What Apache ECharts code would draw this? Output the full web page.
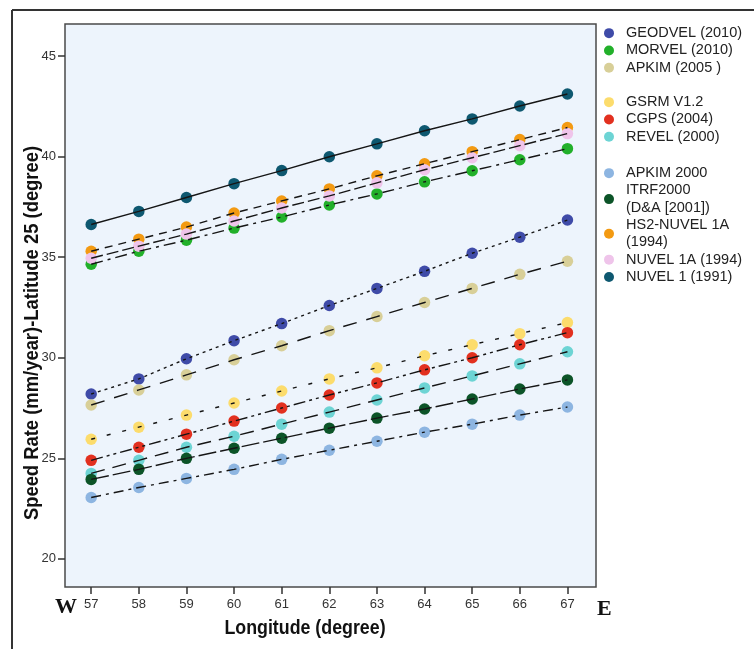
<!DOCTYPE html>
<html>
<head>
<meta charset="utf-8">
<script src="https://cdn.jsdelivr.net/npm/echarts@6/dist/echarts.min.js"></script>
<style>
  html, body { margin: 0; padding: 0; background: #fff; }
  #chart { width: 754px; height: 649px; }
</style>
</head>
<body>
<div id="chart"></div>
<script>
var longitudes = [57, 58, 59, 60, 61, 62, 63, 64, 65, 66, 67];
var yTicks = [20, 25, 30, 35, 40, 45];

var geodvel  = [28.2, 28.95, 29.95, 30.85, 31.7, 32.6, 33.45, 34.3, 35.2, 36.0, 36.85];
var morvel   = [34.65, 35.3, 35.85, 36.45, 37.0, 37.6, 38.15, 38.75, 39.3, 39.85, 40.4];
var apkim05  = [27.65, 28.4, 29.15, 29.9, 30.6, 31.35, 32.05, 32.75, 33.45, 34.15, 34.8];
var gsrm     = [25.95, 26.55, 27.15, 27.75, 28.35, 28.95, 29.5, 30.1, 30.65, 31.2, 31.75];
var cgps     = [24.9, 25.55, 26.2, 26.85, 27.5, 28.15, 28.75, 29.4, 30.0, 30.65, 31.25];
var revel    = [24.25, 24.9, 25.55, 26.1, 26.7, 27.3, 27.9, 28.5, 29.1, 29.7, 30.3];
var apkim00  = [23.05, 23.55, 24.0, 24.45, 24.95, 25.4, 25.85, 26.3, 26.7, 27.15, 27.55];
var itrf00   = [23.95, 24.45, 25.0, 25.5, 26.0, 26.5, 27.0, 27.45, 27.95, 28.45, 28.9];
var hs2nuvel = [35.3, 35.9, 36.5, 37.2, 37.8, 38.4, 39.05, 39.65, 40.25, 40.85, 41.45];
var nuvel1a  = [34.95, 35.55, 36.15, 36.8, 37.45, 38.05, 38.7, 39.35, 39.95, 40.55, 41.15];
var nuvel1   = [36.63, 37.28, 37.97, 38.66, 39.31, 40.0, 40.64, 41.29, 41.88, 42.52, 43.12];

var models = [
  { name: 'GEODVEL (2010)', values: geodvel, color: '#3f4ba8', dash: [3, 4] },
  { name: 'MORVEL (2010)', values: morvel, color: '#22b02a', dash: [12, 5, 3, 5] },
  { name: 'APKIM (2005 )', values: apkim05, color: '#d8cf98', dash: [14, 10] },
  { name: 'GSRM V1.2', values: gsrm, color: '#fcdc6c', dash: [4, 12] },
  { name: 'CGPS (2004)', values: cgps, color: '#e2301f', dash: [12, 4, 3, 4, 3, 4] },
  { name: 'REVEL (2000)', values: revel, color: '#6dd4d4', dash: [14, 8] },
  { name: 'APKIM 2000', values: apkim00, color: '#8db5e1', dash: [10, 5, 3, 5] },
  { name: 'ITRF2000\n(D&A [2001])', values: itrf00, color: '#0c5428', dash: [18, 4] },
  { name: 'HS2-NUVEL 1A\n(1994)', values: hs2nuvel, color: '#f39a12', dash: [8, 6] },
  { name: 'NUVEL 1A (1994)', values: nuvel1a, color: '#efc4ea', dash: [12, 4] },
  { name: 'NUVEL 1 (1991)', values: nuvel1, color: '#0e5870', dash: 'solid' }
];

var series = [];
models.forEach(function (m) {
  var pts = longitudes.map(function (x, i) { return [x, m.values[i]]; });
  series.push({
    name: m.name,
    type: 'scatter',
    data: pts,
    symbolSize: 11.5,
    itemStyle: { color: m.color, opacity: 1 },
    z: 2
  });
  series.push({
    name: m.name + ' line',
    type: 'line',
    data: pts,
    showSymbol: false,
    lineStyle: { color: '#151515', width: 1.4, type: m.dash },
    z: 3
  });
});

function legendFor(names, top) {
  return {
    data: names,
    orient: 'vertical',
    left: 604,
    top: top,
    padding: 0,
    itemGap: 0,
    icon: 'circle',
    itemWidth: 24,
    itemHeight: 10,
    selectedMode: false,
    textStyle: { fontFamily: 'Liberation Sans, Arial, sans-serif', fontSize: 14.5, color: '#222', lineHeight: 17.3 }
  };
}

var titleFont = 'bold 20px "Liberation Sans", Arial, sans-serif';

var chart = echarts.init(document.getElementById('chart'));
chart.setOption({
  animation: false,
  backgroundColor: '#fff',
  grid: {
    left: 65, top: 24, right: 158, bottom: 62,
    show: true,
    backgroundColor: '#edf4fc',
    borderColor: '#4a4a4a',
    borderWidth: 1.5
  },
  legend: [
    legendFor([models[0].name, models[1].name, models[2].name], 24.5),
    legendFor([models[3].name, models[4].name, models[5].name], 93.5),
    legendFor([models[6].name, models[7].name, models[8].name, models[9].name, models[10].name], 164.5)
  ],
  xAxis: {
    type: 'value',
    min: 56.45,
    max: 67.6,
    axisLine: { show: false },
    splitLine: { show: false },
    axisTick: { show: true, length: 7, customValues: longitudes, lineStyle: { color: '#333', width: 1.5 } },
    axisLabel: { customValues: longitudes, margin: 11, fontFamily: 'Liberation Sans, Arial, sans-serif', fontSize: 13, color: '#333' }
  },
  yAxis: {
    type: 'value',
    min: 18.6,
    max: 46.6,
    axisLine: { show: false },
    splitLine: { show: false },
    axisTick: { show: true, length: 7, customValues: yTicks, lineStyle: { color: '#333', width: 1.5 } },
    axisLabel: { customValues: yTicks, margin: 9, fontFamily: 'Liberation Sans, Arial, sans-serif', fontSize: 13, color: '#333' }
  },
  graphic: [
    { type: 'line', shape: { x1: 12, y1: 10, x2: 12, y2: 649 }, style: { stroke: '#333', lineWidth: 2 } },
    { type: 'line', shape: { x1: 12, y1: 10, x2: 754, y2: 10 }, style: { stroke: '#333', lineWidth: 2 } },
    { type: 'text', left: 55, top: 596, style: { text: 'W', font: 'bold 22px "Liberation Serif", "DejaVu Serif", serif', fill: '#111' } },
    { type: 'text', left: 597, top: 598, style: { text: 'E', font: 'bold 22px "Liberation Serif", "DejaVu Serif", serif', fill: '#111' } },
    {
      type: 'text', x: 32, y: 333, rotation: Math.PI / 2, scaleX: 0.92,
      style: { text: 'Speed Rate (mm/year)-Latitude 25 (degree)', font: titleFont, fill: '#111', align: 'center', verticalAlign: 'middle' }
    },
    {
      type: 'text', x: 305, y: 628, scaleX: 0.89,
      style: { text: 'Longitude (degree)', font: titleFont, fill: '#111', align: 'center', verticalAlign: 'middle' }
    }
  ],
  series: series
});
</script>
</body>
</html>
